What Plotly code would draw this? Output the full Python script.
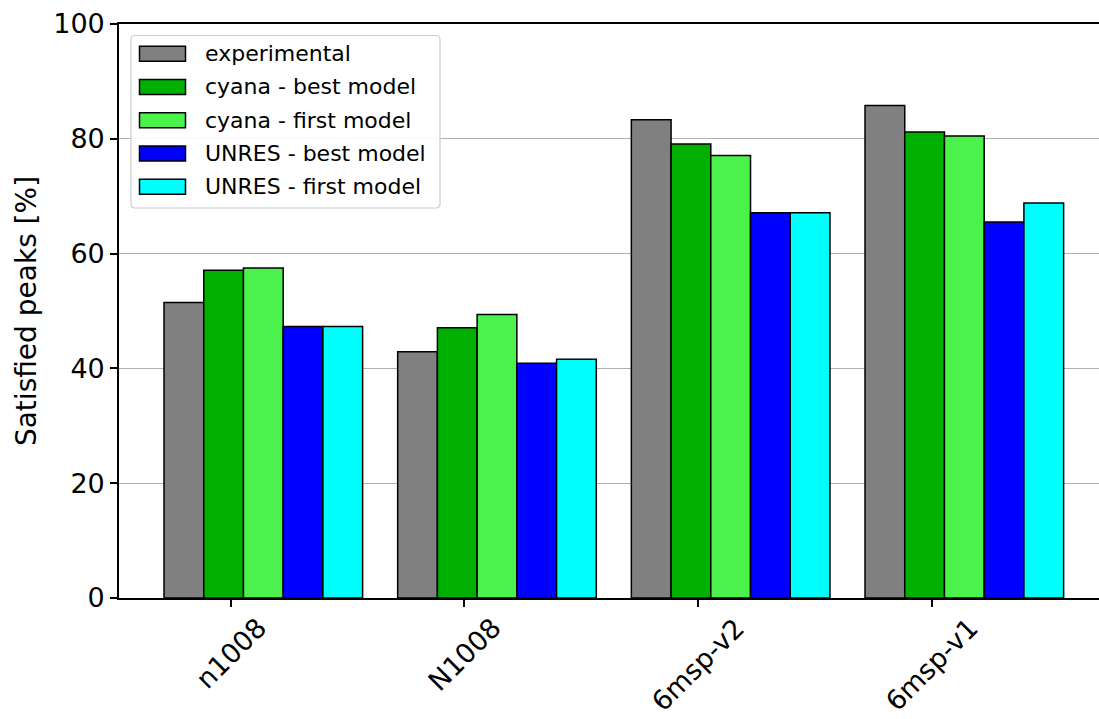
import plotly.graph_objects as go

# Data: percentage of satisfied NOE peaks per target and model source
categories = ["n1008", "N1008", "6msp-v2", "6msp-v1"]
series_names = [
    "experimental",
    "cyana - best model",
    "cyana - first model",
    "UNRES - best model",
    "UNRES - first model",
]
experimental = [51.5, 42.9, 83.3, 85.8]
cyana_best = [57.1, 47.1, 79.1, 81.2]
cyana_first = [57.5, 49.4, 77.1, 80.5]
unres_best = [47.3, 40.9, 67.1, 65.5]
unres_first = [47.3, 41.6, 67.1, 68.8]
y_ticks = [0, 20, 40, 60, 80, 100]

series_values = [experimental, cyana_best, cyana_first, unres_best, unres_first]
colors = ["#808080", "#00b000", "#4cf24c", "#0000ff", "#00ffff"]

# Figure geometry (pixels)
W, H = 1099, 719
ML, MR, MT, MB = 119, 0, 24, 121
PW, PH = W - ML - MR, H - MT - MB

bar_w = 0.17
first_offset = -0.2
x_lo = -0.4776
x_hi = x_lo + PW / 233.67

FONT = "DejaVu Sans"

fig = go.Figure()
idx = list(range(len(categories)))
for k, (name, vals, col) in enumerate(zip(series_names, series_values, colors)):
    fig.add_trace(go.Bar(
        x=[i + first_offset + k * bar_w for i in idx],
        y=vals,
        width=bar_w,
        name=name,
        marker=dict(color=col, line=dict(color="black", width=1.5)),
        showlegend=False,
    ))


def px_x(p):
    return (p - ML) / PW


def px_y(p):
    return (H - MB - p) / PH


shapes = []
annotations = []

# Legend frame with rounded corners
x0, x1 = px_x(131), px_x(440)
y0, y1 = px_y(208), px_y(35.5)
rx, ry = 4 / PW, 4 / PH
path = (
    f"M{x0 + rx},{y0} L{x1 - rx},{y0} Q{x1},{y0} {x1},{y0 + ry} "
    f"L{x1},{y1 - ry} Q{x1},{y1} {x1 - rx},{y1} "
    f"L{x0 + rx},{y1} Q{x0},{y1} {x0},{y1 - ry} "
    f"L{x0},{y0 + ry} Q{x0},{y0} {x0 + rx},{y0} Z"
)
shapes.append(dict(type="path", path=path, xref="paper", yref="paper",
                   fillcolor="rgba(255,255,255,0.9)",
                   line=dict(color="#cccccc", width=1.2), layer="above"))

row0, row_step = 53.7, 33.25
for k, (name, col) in enumerate(zip(series_names, colors)):
    cy = row0 + k * row_step
    shapes.append(dict(type="rect", xref="paper", yref="paper",
                       x0=px_x(139.5), x1=px_x(185.5),
                       y0=px_y(cy + 7.5), y1=px_y(cy - 7.5),
                       fillcolor=col, line=dict(color="black", width=1.5),
                       layer="above"))
    annotations.append(dict(text=name, xref="paper", yref="paper",
                            x=px_x(203), y=px_y(cy), xanchor="left",
                            yanchor="middle", showarrow=False,
                            font=dict(family=FONT, size=22, color="black")))

# Rotated category labels centred under each tick
for i, cat in enumerate(categories):
    annotations.append(dict(text=cat, x=i, xref="x", y=0, yref="paper",
                            xanchor="center", yanchor="top", yshift=-11,
                            textangle=-45, showarrow=False,
                            font=dict(family=FONT, size=27, color="black")))

fig.update_layout(
    width=W, height=H,
    margin=dict(l=ML, r=MR, t=MT, b=MB, autoexpand=False),
    paper_bgcolor="white", plot_bgcolor="white",
    barmode="overlay",
    font=dict(family=FONT, size=27, color="black"),
    shapes=shapes,
    annotations=annotations,
    xaxis=dict(
        range=[x_lo, x_hi], tickvals=idx, showticklabels=False,
        ticks="outside", ticklen=7, tickwidth=1.5, tickcolor="black",
        showline=True, linecolor="black", linewidth=1.6, mirror=True,
        showgrid=False, zeroline=False,
    ),
    yaxis=dict(
        range=[0, 100], tickvals=y_ticks,
        ticks="outside", ticklen=7, tickwidth=1.5, tickcolor="black",
        tickfont=dict(family=FONT, size=27, color="black"),
        showline=True, linecolor="black", linewidth=1.6,
        showgrid=True, gridcolor="#b0b0b0", gridwidth=1.2, zeroline=False,
        title=dict(text="Satisfied peaks [%]", standoff=8,
                   font=dict(family=FONT, size=28, color="black")),
    ),
)

fig.write_html("out.html")
